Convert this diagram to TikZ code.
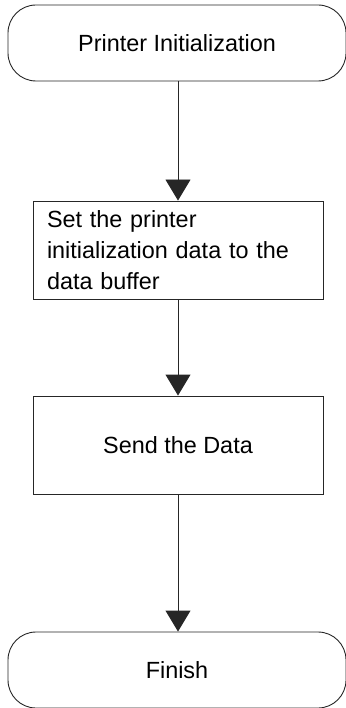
\documentclass[tikz,border=0pt]{standalone}
\usepackage{fontspec}
\setmainfont{Liberation Sans}
\usetikzlibrary{arrows.meta}

\begin{document}
\begin{tikzpicture}[
  x=1pt, y=-1pt,
  font=\fontsize{23.4}{31}\selectfont,
  >={Triangle[length=21pt,width=25pt]},
  % ---- node styles ----
  terminal/.style={
    draw=black!85, rounded corners=28pt, line width=0.9pt,
    minimum width=338pt, minimum height=76pt, inner sep=0pt
  },
  procbox/.style={
    draw=black!85, line width=0.9pt,
    minimum width=290pt, minimum height=98pt, inner sep=0pt
  },
  flow/.style={->, draw=black!85, line width=0.9pt},
]
\useasboundingbox (0,0) rectangle (345,708);

% ---- Start ----
\node[terminal] (init) at (177, 43) {Printer Initialization};

% ---- Steps ----
\node[procbox, text width=262pt, align=left] (setdata) at (178, 250)
  {Set the printer\\initialization data to the\\data buffer};
\node[procbox] (send) at (178, 445) {Send the Data};

% ---- End ----
\node[terminal] (finish) at (177, 670) {Finish};

% ---- Arrows ----
\draw[flow] (init.south -| setdata.north) -- (setdata.north);
\draw[flow] (setdata) -- (send);
\draw[flow] (send.south) -- (finish.north -| send.south);

\end{tikzpicture}
\end{document}
